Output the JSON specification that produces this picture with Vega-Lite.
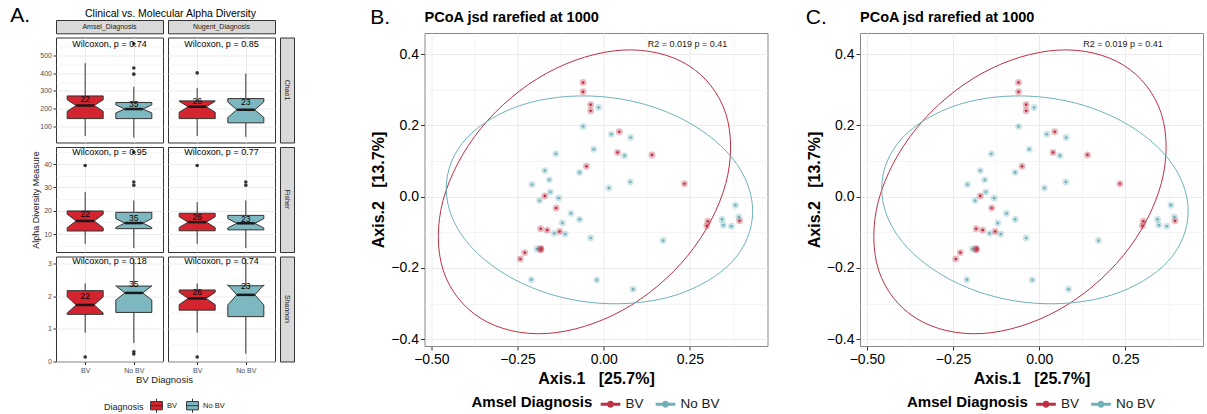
{
"$schema": "https://vega.github.io/schema/vega-lite/v6.json",
"background": "white",
"padding": {"left": 10, "top": 5, "right": 0, "bottom": 0},
"config": {
  "font": "Liberation Sans",
  "view": {"stroke": "#333333", "strokeWidth": 1},
  "axis": {"domain": false, "labelOverlap": false, "labelFontSize": 7, "labelColor": "#4d4d4d", "tickColor": "#333333", "tickSize": 3, "labelPadding": 1.5, "gridColor": "#ebebeb", "gridWidth": 1, "titleFontSize": 9, "titleFontWeight": "normal", "titleColor": "#1a1a1a", "titlePadding": 3},
  "legend": {"layout": {"bottom": {"anchor": "middle", "bounds": "flush"}}},
  "title": {"color": "black"}
},
"datasets": {
  "stat": [
    {"m":"C","d":"A","g":"BV","lo":46,"med":218,"hi":457,"n":22,"ny":256},
    {"m":"C","d":"A","g":"No BV","lo":37,"med":198,"hi":324,"n":35,"ny":226},
    {"m":"C","d":"N","g":"BV","lo":46,"med":211,"hi":318,"n":26,"ny":244},
    {"m":"C","d":"N","g":"No BV","lo":41,"med":194,"hi":398,"n":23,"ny":237},
    {"m":"F","d":"A","g":"BV","lo":5.8,"med":15.6,"hi":28,"n":22,"ny":18.6},
    {"m":"F","d":"A","g":"No BV","lo":4.0,"med":14.7,"hi":24.4,"n":35,"ny":16.9},
    {"m":"F","d":"N","g":"BV","lo":5.8,"med":15.1,"hi":23.7,"n":26,"ny":17.4},
    {"m":"F","d":"N","g":"No BV","lo":4.0,"med":14.6,"hi":24.4,"n":23,"ny":16.3},
    {"m":"S","d":"A","g":"BV","lo":0.87,"med":1.73,"hi":2.39,"n":22,"ny":1.99},
    {"m":"S","d":"A","g":"No BV","lo":0.56,"med":2.10,"hi":3.15,"n":35,"ny":2.36},
    {"m":"S","d":"N","g":"BV","lo":0.87,"med":1.93,"hi":2.39,"n":26,"ny":2.14},
    {"m":"S","d":"N","g":"No BV","lo":0.23,"med":2.04,"hi":3.15,"n":23,"ny":2.32}
  ],
  "out": [
    {"m":"C","d":"A","g":"No BV","v":395},{"m":"C","d":"A","g":"No BV","v":430},{"m":"C","d":"A","g":"No BV","v":566},
    {"m":"C","d":"N","g":"BV","v":402},
    {"m":"F","d":"A","g":"BV","v":39.4},{"m":"F","d":"A","g":"No BV","v":30.9},{"m":"F","d":"A","g":"No BV","v":32.3},{"m":"F","d":"A","g":"No BV","v":45.1},
    {"m":"F","d":"N","g":"BV","v":39.4},{"m":"F","d":"N","g":"No BV","v":30.9},{"m":"F","d":"N","g":"No BV","v":32.3},
    {"m":"S","d":"A","g":"BV","v":0.13},{"m":"S","d":"A","g":"No BV","v":0.22},{"m":"S","d":"A","g":"No BV","v":0.29},
    {"m":"S","d":"N","g":"BV","v":0.13}
  ],
  "wil": [
    {"m":"C","d":"A","t":"Wilcoxon, p = 0.74","wy":564},
    {"m":"C","d":"N","t":"Wilcoxon, p = 0.85","wy":564},
    {"m":"F","d":"A","t":"Wilcoxon, p = 0.95","wy":45.1},
    {"m":"F","d":"N","t":"Wilcoxon, p = 0.77","wy":45.1},
    {"m":"S","d":"A","t":"Wilcoxon, p = 0.18","wy":3.08},
    {"m":"S","d":"N","t":"Wilcoxon, p = 0.74","wy":3.08}
  ],
  "box": [
    {"m":"C","d":"A","g":"BV","o":1,"s":"L","v":144},{"m":"C","d":"A","g":"BV","o":2,"s":"L","v":185},{"m":"C","d":"A","g":"BV","o":3,"s":"Lm","v":218},{"m":"C","d":"A","g":"BV","o":4,"s":"L","v":250},{"m":"C","d":"A","g":"BV","o":5,"s":"L","v":272},{"m":"C","d":"A","g":"BV","o":6,"s":"R","v":272},{"m":"C","d":"A","g":"BV","o":7,"s":"R","v":250},{"m":"C","d":"A","g":"BV","o":8,"s":"Rm","v":218},{"m":"C","d":"A","g":"BV","o":9,"s":"R","v":185},{"m":"C","d":"A","g":"BV","o":10,"s":"R","v":144},{"m":"C","d":"A","g":"BV","o":11,"s":"L","v":144},
    {"m":"C","d":"A","g":"No BV","o":1,"s":"L","v":144},{"m":"C","d":"A","g":"No BV","o":2,"s":"L","v":176},{"m":"C","d":"A","g":"No BV","o":3,"s":"Lm","v":198},{"m":"C","d":"A","g":"No BV","o":4,"s":"L","v":222},{"m":"C","d":"A","g":"No BV","o":5,"s":"L","v":235},{"m":"C","d":"A","g":"No BV","o":6,"s":"R","v":235},{"m":"C","d":"A","g":"No BV","o":7,"s":"R","v":222},{"m":"C","d":"A","g":"No BV","o":8,"s":"Rm","v":198},{"m":"C","d":"A","g":"No BV","o":9,"s":"R","v":176},{"m":"C","d":"A","g":"No BV","o":10,"s":"R","v":144},{"m":"C","d":"A","g":"No BV","o":11,"s":"L","v":144},
    {"m":"C","d":"N","g":"BV","o":1,"s":"L","v":144},{"m":"C","d":"N","g":"BV","o":2,"s":"L","v":180},{"m":"C","d":"N","g":"BV","o":3,"s":"Lm","v":211},{"m":"C","d":"N","g":"BV","o":4,"s":"L","v":242},{"m":"C","d":"N","g":"BV","o":5,"s":"L","v":244},{"m":"C","d":"N","g":"BV","o":6,"s":"R","v":244},{"m":"C","d":"N","g":"BV","o":7,"s":"R","v":242},{"m":"C","d":"N","g":"BV","o":8,"s":"Rm","v":211},{"m":"C","d":"N","g":"BV","o":9,"s":"R","v":180},{"m":"C","d":"N","g":"BV","o":10,"s":"R","v":144},{"m":"C","d":"N","g":"BV","o":11,"s":"L","v":144},
    {"m":"C","d":"N","g":"No BV","o":1,"s":"L","v":120},{"m":"C","d":"N","g":"No BV","o":2,"s":"L","v":150},{"m":"C","d":"N","g":"No BV","o":3,"s":"Lm","v":194},{"m":"C","d":"N","g":"No BV","o":4,"s":"L","v":238},{"m":"C","d":"N","g":"No BV","o":5,"s":"L","v":257},{"m":"C","d":"N","g":"No BV","o":6,"s":"R","v":257},{"m":"C","d":"N","g":"No BV","o":7,"s":"R","v":238},{"m":"C","d":"N","g":"No BV","o":8,"s":"Rm","v":194},{"m":"C","d":"N","g":"No BV","o":9,"s":"R","v":150},{"m":"C","d":"N","g":"No BV","o":10,"s":"R","v":120},{"m":"C","d":"N","g":"No BV","o":11,"s":"L","v":120},
    {"m":"F","d":"A","g":"BV","o":1,"s":"L","v":11.3},{"m":"F","d":"A","g":"BV","o":2,"s":"L","v":12.7},{"m":"F","d":"A","g":"BV","o":3,"s":"Lm","v":15.6},{"m":"F","d":"A","g":"BV","o":4,"s":"L","v":18.5},{"m":"F","d":"A","g":"BV","o":5,"s":"L","v":19.9},{"m":"F","d":"A","g":"BV","o":6,"s":"R","v":19.9},{"m":"F","d":"A","g":"BV","o":7,"s":"R","v":18.5},{"m":"F","d":"A","g":"BV","o":8,"s":"Rm","v":15.6},{"m":"F","d":"A","g":"BV","o":9,"s":"R","v":12.7},{"m":"F","d":"A","g":"BV","o":10,"s":"R","v":11.3},{"m":"F","d":"A","g":"BV","o":11,"s":"L","v":11.3},
    {"m":"F","d":"A","g":"No BV","o":1,"s":"L","v":12.3},{"m":"F","d":"A","g":"No BV","o":2,"s":"L","v":12.8},{"m":"F","d":"A","g":"No BV","o":3,"s":"Lm","v":14.7},{"m":"F","d":"A","g":"No BV","o":4,"s":"L","v":16.6},{"m":"F","d":"A","g":"No BV","o":5,"s":"L","v":19.3},{"m":"F","d":"A","g":"No BV","o":6,"s":"R","v":19.3},{"m":"F","d":"A","g":"No BV","o":7,"s":"R","v":16.6},{"m":"F","d":"A","g":"No BV","o":8,"s":"Rm","v":14.7},{"m":"F","d":"A","g":"No BV","o":9,"s":"R","v":12.8},{"m":"F","d":"A","g":"No BV","o":10,"s":"R","v":12.3},{"m":"F","d":"A","g":"No BV","o":11,"s":"L","v":12.3},
    {"m":"F","d":"N","g":"BV","o":1,"s":"L","v":11.4},{"m":"F","d":"N","g":"BV","o":2,"s":"L","v":12.8},{"m":"F","d":"N","g":"BV","o":3,"s":"Lm","v":15.1},{"m":"F","d":"N","g":"BV","o":4,"s":"L","v":17.4},{"m":"F","d":"N","g":"BV","o":5,"s":"L","v":18.9},{"m":"F","d":"N","g":"BV","o":6,"s":"R","v":18.9},{"m":"F","d":"N","g":"BV","o":7,"s":"R","v":17.4},{"m":"F","d":"N","g":"BV","o":8,"s":"Rm","v":15.1},{"m":"F","d":"N","g":"BV","o":9,"s":"R","v":12.8},{"m":"F","d":"N","g":"BV","o":10,"s":"R","v":11.4},{"m":"F","d":"N","g":"BV","o":11,"s":"L","v":11.4},
    {"m":"F","d":"N","g":"No BV","o":1,"s":"L","v":11.8},{"m":"F","d":"N","g":"No BV","o":2,"s":"L","v":12.6},{"m":"F","d":"N","g":"No BV","o":3,"s":"Lm","v":14.6},{"m":"F","d":"N","g":"No BV","o":4,"s":"L","v":16.6},{"m":"F","d":"N","g":"No BV","o":5,"s":"L","v":18.0},{"m":"F","d":"N","g":"No BV","o":6,"s":"R","v":18.0},{"m":"F","d":"N","g":"No BV","o":7,"s":"R","v":16.6},{"m":"F","d":"N","g":"No BV","o":8,"s":"Rm","v":14.6},{"m":"F","d":"N","g":"No BV","o":9,"s":"R","v":12.6},{"m":"F","d":"N","g":"No BV","o":10,"s":"R","v":11.8},{"m":"F","d":"N","g":"No BV","o":11,"s":"L","v":11.8},
    {"m":"S","d":"A","g":"BV","o":1,"s":"L","v":1.44},{"m":"S","d":"A","g":"BV","o":2,"s":"L","v":1.48},{"m":"S","d":"A","g":"BV","o":3,"s":"Lm","v":1.73},{"m":"S","d":"A","g":"BV","o":4,"s":"L","v":1.98},{"m":"S","d":"A","g":"BV","o":5,"s":"L","v":2.17},{"m":"S","d":"A","g":"BV","o":6,"s":"R","v":2.17},{"m":"S","d":"A","g":"BV","o":7,"s":"R","v":1.98},{"m":"S","d":"A","g":"BV","o":8,"s":"Rm","v":1.73},{"m":"S","d":"A","g":"BV","o":9,"s":"R","v":1.48},{"m":"S","d":"A","g":"BV","o":10,"s":"R","v":1.44},{"m":"S","d":"A","g":"BV","o":11,"s":"L","v":1.44},
    {"m":"S","d":"A","g":"No BV","o":1,"s":"L","v":1.50},{"m":"S","d":"A","g":"No BV","o":2,"s":"L","v":1.88},{"m":"S","d":"A","g":"No BV","o":3,"s":"Lm","v":2.10},{"m":"S","d":"A","g":"No BV","o":4,"s":"L","v":2.32},{"m":"S","d":"A","g":"No BV","o":5,"s":"L","v":2.31},{"m":"S","d":"A","g":"No BV","o":6,"s":"R","v":2.31},{"m":"S","d":"A","g":"No BV","o":7,"s":"R","v":2.32},{"m":"S","d":"A","g":"No BV","o":8,"s":"Rm","v":2.10},{"m":"S","d":"A","g":"No BV","o":9,"s":"R","v":1.88},{"m":"S","d":"A","g":"No BV","o":10,"s":"R","v":1.50},{"m":"S","d":"A","g":"No BV","o":11,"s":"L","v":1.50},
    {"m":"S","d":"N","g":"BV","o":1,"s":"L","v":1.57},{"m":"S","d":"N","g":"BV","o":2,"s":"L","v":1.74},{"m":"S","d":"N","g":"BV","o":3,"s":"Lm","v":1.93},{"m":"S","d":"N","g":"BV","o":4,"s":"L","v":2.12},{"m":"S","d":"N","g":"BV","o":5,"s":"L","v":2.19},{"m":"S","d":"N","g":"BV","o":6,"s":"R","v":2.19},{"m":"S","d":"N","g":"BV","o":7,"s":"R","v":2.12},{"m":"S","d":"N","g":"BV","o":8,"s":"Rm","v":1.93},{"m":"S","d":"N","g":"BV","o":9,"s":"R","v":1.74},{"m":"S","d":"N","g":"BV","o":10,"s":"R","v":1.57},{"m":"S","d":"N","g":"BV","o":11,"s":"L","v":1.57},
    {"m":"S","d":"N","g":"No BV","o":1,"s":"L","v":1.37},{"m":"S","d":"N","g":"No BV","o":2,"s":"L","v":1.73},{"m":"S","d":"N","g":"No BV","o":3,"s":"Lm","v":2.04},{"m":"S","d":"N","g":"No BV","o":4,"s":"L","v":2.35},{"m":"S","d":"N","g":"No BV","o":5,"s":"L","v":2.32},{"m":"S","d":"N","g":"No BV","o":6,"s":"R","v":2.32},{"m":"S","d":"N","g":"No BV","o":7,"s":"R","v":2.35},{"m":"S","d":"N","g":"No BV","o":8,"s":"Rm","v":2.04},{"m":"S","d":"N","g":"No BV","o":9,"s":"R","v":1.73},{"m":"S","d":"N","g":"No BV","o":10,"s":"R","v":1.37},{"m":"S","d":"N","g":"No BV","o":11,"s":"L","v":1.37}
  ],
  "pcoa": [
    {"grp":"BV","x":-0.060,"y":0.320},{"grp":"BV","x":-0.060,"y":0.294},{"grp":"BV","x":-0.038,"y":0.258},{"grp":"BV","x":-0.038,"y":0.241},
    {"grp":"BV","x":0.045,"y":0.182},{"grp":"BV","x":0.040,"y":0.124},{"grp":"BV","x":0.140,"y":0.117},{"grp":"BV","x":-0.050,"y":0.085},
    {"grp":"BV","x":0.234,"y":0.036},{"grp":"BV","x":-0.171,"y":0.002},{"grp":"BV","x":-0.138,"y":-0.032},{"grp":"BV","x":0.302,"y":-0.069},
    {"grp":"BV","x":0.299,"y":-0.082},{"grp":"BV","x":0.394,"y":-0.068},{"grp":"BV","x":-0.183,"y":-0.090},{"grp":"BV","x":-0.164,"y":-0.094},
    {"grp":"BV","x":-0.128,"y":-0.098},{"grp":"BV","x":-0.185,"y":-0.147},{"grp":"BV","x":-0.182,"y":-0.146},{"grp":"BV","x":-0.229,"y":-0.157},
    {"grp":"BV","x":-0.242,"y":-0.175},{"grp":"BV","x":-0.183,"y":-0.149},
    {"grp":"No BV","x":-0.015,"y":0.250},{"grp":"No BV","x":-0.060,"y":0.197},{"grp":"No BV","x":0.022,"y":0.175},{"grp":"No BV","x":0.078,"y":0.166},
    {"grp":"No BV","x":-0.029,"y":0.133},{"grp":"No BV","x":0.060,"y":0.115},{"grp":"No BV","x":-0.139,"y":0.120},{"grp":"No BV","x":-0.171,"y":0.073},
    {"grp":"No BV","x":-0.070,"y":0.068},{"grp":"No BV","x":-0.158,"y":0.047},{"grp":"No BV","x":-0.208,"y":0.034},{"grp":"No BV","x":0.077,"y":0.041},
    {"grp":"No BV","x":0.015,"y":0.024},{"grp":"No BV","x":-0.155,"y":0.013},{"grp":"No BV","x":-0.186,"y":-0.011},{"grp":"No BV","x":-0.131,"y":-0.004},
    {"grp":"No BV","x":-0.095,"y":-0.047},{"grp":"No BV","x":-0.070,"y":-0.064},{"grp":"No BV","x":-0.120,"y":-0.074},{"grp":"No BV","x":-0.144,"y":-0.103},
    {"grp":"No BV","x":-0.112,"y":-0.105},{"grp":"No BV","x":-0.038,"y":-0.116},{"grp":"No BV","x":0.172,"y":-0.123},{"grp":"No BV","x":-0.194,"y":-0.147},
    {"grp":"No BV","x":0.382,"y":-0.024},{"grp":"No BV","x":0.392,"y":-0.057},{"grp":"No BV","x":0.343,"y":-0.064},{"grp":"No BV","x":0.347,"y":-0.080},
    {"grp":"No BV","x":0.370,"y":-0.083},{"grp":"No BV","x":-0.210,"y":-0.233},{"grp":"No BV","x":-0.020,"y":-0.234},{"grp":"No BV","x":0.085,"y":-0.260}
  ],
  "ell": [
    {"grp":"BV","i":0,"x":0.368,"y":0.139},{"grp":"BV","i":1,"x":0.354,"y":0.233},{"grp":"BV","i":2,"x":0.311,"y":0.311},{"grp":"BV","i":3,"x":0.244,"y":0.369},
    {"grp":"BV","i":4,"x":0.156,"y":0.403},{"grp":"BV","i":5,"x":0.054,"y":0.411},{"grp":"BV","i":6,"x":-0.056,"y":0.391},{"grp":"BV","i":7,"x":-0.166,"y":0.346},
    {"grp":"BV","i":8,"x":-0.268,"y":0.278},{"grp":"BV","i":9,"x":-0.356,"y":0.192},{"grp":"BV","i":10,"x":-0.423,"y":0.094},{"grp":"BV","i":11,"x":-0.466,"y":-0.010},
    {"grp":"BV","i":12,"x":-0.480,"y":-0.112},{"grp":"BV","i":13,"x":-0.466,"y":-0.206},{"grp":"BV","i":14,"x":-0.423,"y":-0.284},{"grp":"BV","i":15,"x":-0.356,"y":-0.342},
    {"grp":"BV","i":16,"x":-0.268,"y":-0.376},{"grp":"BV","i":17,"x":-0.166,"y":-0.384},{"grp":"BV","i":18,"x":-0.056,"y":-0.364},{"grp":"BV","i":19,"x":0.054,"y":-0.319},
    {"grp":"BV","i":20,"x":0.156,"y":-0.251},{"grp":"BV","i":21,"x":0.244,"y":-0.165},{"grp":"BV","i":22,"x":0.311,"y":-0.067},{"grp":"BV","i":23,"x":0.354,"y":0.037},
    {"grp":"No BV","i":0,"x":0.432,"y":-0.041},{"grp":"No BV","i":1,"x":0.417,"y":-0.115},{"grp":"No BV","i":2,"x":0.373,"y":-0.182},{"grp":"No BV","i":3,"x":0.302,"y":-0.236},
    {"grp":"No BV","i":4,"x":0.210,"y":-0.276},{"grp":"No BV","i":5,"x":0.103,"y":-0.297},{"grp":"No BV","i":6,"x":-0.013,"y":-0.299},{"grp":"No BV","i":7,"x":-0.128,"y":-0.281},
    {"grp":"No BV","i":8,"x":-0.235,"y":-0.244},{"grp":"No BV","i":9,"x":-0.327,"y":-0.191},{"grp":"No BV","i":10,"x":-0.398,"y":-0.126},{"grp":"No BV","i":11,"x":-0.442,"y":-0.053},
    {"grp":"No BV","i":12,"x":-0.457,"y":0.023},{"grp":"No BV","i":13,"x":-0.442,"y":0.097},{"grp":"No BV","i":14,"x":-0.398,"y":0.164},{"grp":"No BV","i":15,"x":-0.327,"y":0.218},
    {"grp":"No BV","i":16,"x":-0.235,"y":0.258},{"grp":"No BV","i":17,"x":-0.128,"y":0.279},{"grp":"No BV","i":18,"x":-0.013,"y":0.281},{"grp":"No BV","i":19,"x":0.103,"y":0.263},
    {"grp":"No BV","i":20,"x":0.210,"y":0.226},{"grp":"No BV","i":21,"x":0.302,"y":0.173},{"grp":"No BV","i":22,"x":0.373,"y":0.108},{"grp":"No BV","i":23,"x":0.417,"y":0.035}
  ]
},
"columns": 2,
"align": "none",
"spacing": 74.5,
"resolve": {"scale": {"color": "independent", "fill": "independent", "xOffset": "independent"}, "legend": {"color": "independent", "fill": "independent"}},
"concat": [
 {
  "title": {"text": "A.", "anchor": "start", "frame": "bounds", "fontSize": 21, "fontWeight": "normal", "offset": -18, "dx": -21},
  "spacing": 0,
  "resolve": {"scale": {"fill": "independent"}, "legend": {"fill": "independent"}},
  "vconcat": [
   {"width": 1, "height": 1, "view": {"stroke": null}, "data": {"values": [{"t": ""}]}, "mark": {"type": "text", "fontSize": 0.1}, "encoding": {"text": {"field": "t", "type": "nominal"}}},
   {
    "title": {"text": "Clinical vs. Molecular Alpha Diversity", "anchor": "start", "frame": "group", "fontSize": 10.5, "fontWeight": "normal", "offset": 0, "dx": 29},
    "columns": 3,
    "align": "each",
    "spacing": {"row": 2.5, "column": 3},
    "concat": [
     {"width": 107, "height": 13.3, "view": {"fill": "#d9d9d9", "stroke": "#333333"}, "data": {"values": [{"t": "Amsel_Diagnosis"}]}, "mark": {"type": "text", "fontSize": 7, "color": "#1a1a1a"}, "encoding": {"text": {"field": "t", "type": "nominal"}}},
     {"width": 107, "height": 13.3, "view": {"fill": "#d9d9d9", "stroke": "#333333"}, "data": {"values": [{"t": "Nugent_Diagnosis"}]}, "mark": {"type": "text", "fontSize": 7, "color": "#1a1a1a"}, "encoding": {"text": {"field": "t", "type": "nominal"}}},
     {"width": 14, "height": 13.3, "view": {"stroke": null}, "data": {"values": [{"t": ""}]}, "mark": {"type": "text", "fontSize": 0.1}, "encoding": {"text": {"field": "t", "type": "nominal"}}},

     {"width": 107, "height": 105, "layer": [
       {"data": {"name": "stat"}, "transform": [{"filter": "datum.m=='C'&&datum.d=='A'"}], "mark": {"type": "rule", "color": "#333333", "strokeWidth": 1},
        "encoding": {"x": {"field": "g", "type": "nominal", "scale": {"type": "point", "padding": 0.6, "domain": ["BV", "No BV"]}, "axis": {"grid": true, "labels": false, "ticks": false, "title": null, "minExtent": 0, "maxExtent": 0}},
                     "y": {"field": "lo", "type": "quantitative", "scale": {"domain": [9, 602], "nice": false, "zero": false}, "axis": {"values": [50, 100, 150, 200, 250, 300, 350, 400, 450, 500, 550], "tickCount": 50, "format": "d", "grid": true, "title": null, "labelOverlap": false, "labelExpr": "datum.value % 100 === 0 ? datum.label : ''", "tickOpacity": {"condition": {"test": "datum.value % 100 === 0", "value": 1}, "value": 0}, "gridWidth": {"condition": {"test": "datum.value % 100 === 0", "value": 1}, "value": 0.5}}},
                     "y2": {"field": "hi"}}},
       {"data": {"name": "box"}, "transform": [{"filter": "datum.m=='C'&&datum.d=='A'"}], "mark": {"type": "line", "stroke": "#333333", "strokeWidth": 1},
        "encoding": {"x": {"field": "g", "type": "nominal"}, "xOffset": {"field": "s", "type": "nominal", "scale": {"type": "point", "padding": 0, "domain": ["L", "Lm", "C", "Rm", "R"], "range": [-18, 18]}}, "y": {"field": "v", "type": "quantitative"}, "order": {"field": "o", "type": "quantitative"}, "detail": {"field": "g"},
                     "fill": {"field": "g", "type": "nominal", "scale": {"domain": ["BV", "No BV"], "range": ["#d3242f", "#7db8c1"]}, "legend": null}}},
       {"data": {"name": "stat"}, "transform": [{"filter": "datum.m=='C'&&datum.d=='A'"}], "mark": {"type": "tick", "size": 18, "thickness": 2.5, "color": "#1a1a1a", "orient": "horizontal", "opacity": 1},
        "encoding": {"x": {"field": "g", "type": "nominal"}, "y": {"field": "med", "type": "quantitative"}}},
       {"data": {"name": "out"}, "transform": [{"filter": "datum.m=='C'&&datum.d=='A'"}], "mark": {"type": "point", "filled": true, "size": 13, "color": "#333333", "opacity": 1},
        "encoding": {"x": {"field": "g", "type": "nominal"}, "y": {"field": "v", "type": "quantitative"}}},
       {"data": {"name": "stat"}, "transform": [{"filter": "datum.m=='C'&&datum.d=='A'"}], "mark": {"type": "text", "fontSize": 8.5, "color": "black"},
        "encoding": {"x": {"field": "g", "type": "nominal"}, "y": {"field": "ny", "type": "quantitative"}, "text": {"field": "n", "type": "nominal"}}},
       {"data": {"name": "wil"}, "transform": [{"filter": "datum.m=='C'&&datum.d=='A'"}], "mark": {"type": "text", "fontSize": 9, "color": "black"},
        "encoding": {"y": {"field": "wy", "type": "quantitative"}, "text": {"field": "t", "type": "nominal"}}}
     ]},
     {"width": 107, "height": 105, "layer": [
       {"data": {"name": "stat"}, "transform": [{"filter": "datum.m=='C'&&datum.d=='N'"}], "mark": {"type": "rule", "color": "#333333", "strokeWidth": 1},
        "encoding": {"x": {"field": "g", "type": "nominal", "scale": {"type": "point", "padding": 0.6, "domain": ["BV", "No BV"]}, "axis": {"grid": true, "labels": false, "ticks": false, "title": null, "minExtent": 0, "maxExtent": 0}},
                     "y": {"field": "lo", "type": "quantitative", "scale": {"domain": [9, 602], "nice": false, "zero": false}, "axis": {"values": [50, 100, 150, 200, 250, 300, 350, 400, 450, 500, 550], "tickCount": 50, "grid": true, "labels": false, "ticks": false, "title": null, "minExtent": 0, "maxExtent": 0, "gridWidth": {"condition": {"test": "datum.value % 100 === 0", "value": 1}, "value": 0.5}}},
                     "y2": {"field": "hi"}}},
       {"data": {"name": "box"}, "transform": [{"filter": "datum.m=='C'&&datum.d=='N'"}], "mark": {"type": "line", "stroke": "#333333", "strokeWidth": 1},
        "encoding": {"x": {"field": "g", "type": "nominal"}, "xOffset": {"field": "s", "type": "nominal", "scale": {"type": "point", "padding": 0, "domain": ["L", "Lm", "C", "Rm", "R"], "range": [-18, 18]}}, "y": {"field": "v", "type": "quantitative"}, "order": {"field": "o", "type": "quantitative"}, "detail": {"field": "g"},
                     "fill": {"field": "g", "type": "nominal", "scale": {"domain": ["BV", "No BV"], "range": ["#d3242f", "#7db8c1"]}, "legend": null}}},
       {"data": {"name": "stat"}, "transform": [{"filter": "datum.m=='C'&&datum.d=='N'"}], "mark": {"type": "tick", "size": 18, "thickness": 2.5, "color": "#1a1a1a", "orient": "horizontal", "opacity": 1},
        "encoding": {"x": {"field": "g", "type": "nominal"}, "y": {"field": "med", "type": "quantitative"}}},
       {"data": {"name": "out"}, "transform": [{"filter": "datum.m=='C'&&datum.d=='N'"}], "mark": {"type": "point", "filled": true, "size": 13, "color": "#333333", "opacity": 1},
        "encoding": {"x": {"field": "g", "type": "nominal"}, "y": {"field": "v", "type": "quantitative"}}},
       {"data": {"name": "stat"}, "transform": [{"filter": "datum.m=='C'&&datum.d=='N'"}], "mark": {"type": "text", "fontSize": 8.5, "color": "black"},
        "encoding": {"x": {"field": "g", "type": "nominal"}, "y": {"field": "ny", "type": "quantitative"}, "text": {"field": "n", "type": "nominal"}}},
       {"data": {"name": "wil"}, "transform": [{"filter": "datum.m=='C'&&datum.d=='N'"}], "mark": {"type": "text", "fontSize": 9, "color": "black"},
        "encoding": {"y": {"field": "wy", "type": "quantitative"}, "text": {"field": "t", "type": "nominal"}}}
     ]},
     {"width": 14, "height": 105, "view": {"fill": "#d9d9d9", "stroke": "#333333"}, "data": {"values": [{"t": "Chao1"}]}, "mark": {"type": "text", "fontSize": 7, "color": "#1a1a1a", "angle": 90}, "encoding": {"text": {"field": "t", "type": "nominal"}}},

     {"width": 107, "height": 105, "layer": [
       {"data": {"name": "stat"}, "transform": [{"filter": "datum.m=='F'&&datum.d=='A'"}], "mark": {"type": "rule", "color": "#333333", "strokeWidth": 1},
        "encoding": {"x": {"field": "g", "type": "nominal", "scale": {"type": "point", "padding": 0.6, "domain": ["BV", "No BV"]}, "axis": {"grid": true, "labels": false, "ticks": false, "title": null, "minExtent": 0, "maxExtent": 0}},
                     "y": {"field": "lo", "type": "quantitative", "scale": {"domain": [2.3, 47.3], "nice": false, "zero": false}, "axis": {"values": [5, 10, 15, 20, 25, 30, 35, 40, 45], "tickCount": 50, "format": "d", "grid": true, "title": "Alpha Diversity Measure", "labelOverlap": false, "labelExpr": "datum.value % 10 === 0 ? datum.label : ''", "tickOpacity": {"condition": {"test": "datum.value % 10 === 0", "value": 1}, "value": 0}, "gridWidth": {"condition": {"test": "datum.value % 10 === 0", "value": 1}, "value": 0.5}}},
                     "y2": {"field": "hi"}}},
       {"data": {"name": "box"}, "transform": [{"filter": "datum.m=='F'&&datum.d=='A'"}], "mark": {"type": "line", "stroke": "#333333", "strokeWidth": 1},
        "encoding": {"x": {"field": "g", "type": "nominal"}, "xOffset": {"field": "s", "type": "nominal", "scale": {"type": "point", "padding": 0, "domain": ["L", "Lm", "C", "Rm", "R"], "range": [-18, 18]}}, "y": {"field": "v", "type": "quantitative"}, "order": {"field": "o", "type": "quantitative"}, "detail": {"field": "g"},
                     "fill": {"field": "g", "type": "nominal", "scale": {"domain": ["BV", "No BV"], "range": ["#d3242f", "#7db8c1"]}, "legend": null}}},
       {"data": {"name": "stat"}, "transform": [{"filter": "datum.m=='F'&&datum.d=='A'"}], "mark": {"type": "tick", "size": 18, "thickness": 2.5, "color": "#1a1a1a", "orient": "horizontal", "opacity": 1},
        "encoding": {"x": {"field": "g", "type": "nominal"}, "y": {"field": "med", "type": "quantitative"}}},
       {"data": {"name": "out"}, "transform": [{"filter": "datum.m=='F'&&datum.d=='A'"}], "mark": {"type": "point", "filled": true, "size": 13, "color": "#333333", "opacity": 1},
        "encoding": {"x": {"field": "g", "type": "nominal"}, "y": {"field": "v", "type": "quantitative"}}},
       {"data": {"name": "stat"}, "transform": [{"filter": "datum.m=='F'&&datum.d=='A'"}], "mark": {"type": "text", "fontSize": 8.5, "color": "black"},
        "encoding": {"x": {"field": "g", "type": "nominal"}, "y": {"field": "ny", "type": "quantitative"}, "text": {"field": "n", "type": "nominal"}}},
       {"data": {"name": "wil"}, "transform": [{"filter": "datum.m=='F'&&datum.d=='A'"}], "mark": {"type": "text", "fontSize": 9, "color": "black"},
        "encoding": {"y": {"field": "wy", "type": "quantitative"}, "text": {"field": "t", "type": "nominal"}}}
     ]},
     {"width": 107, "height": 105, "layer": [
       {"data": {"name": "stat"}, "transform": [{"filter": "datum.m=='F'&&datum.d=='N'"}], "mark": {"type": "rule", "color": "#333333", "strokeWidth": 1},
        "encoding": {"x": {"field": "g", "type": "nominal", "scale": {"type": "point", "padding": 0.6, "domain": ["BV", "No BV"]}, "axis": {"grid": true, "labels": false, "ticks": false, "title": null, "minExtent": 0, "maxExtent": 0}},
                     "y": {"field": "lo", "type": "quantitative", "scale": {"domain": [2.3, 47.3], "nice": false, "zero": false}, "axis": {"values": [5, 10, 15, 20, 25, 30, 35, 40, 45], "tickCount": 50, "grid": true, "labels": false, "ticks": false, "title": null, "minExtent": 0, "maxExtent": 0, "gridWidth": {"condition": {"test": "datum.value % 10 === 0", "value": 1}, "value": 0.5}}},
                     "y2": {"field": "hi"}}},
       {"data": {"name": "box"}, "transform": [{"filter": "datum.m=='F'&&datum.d=='N'"}], "mark": {"type": "line", "stroke": "#333333", "strokeWidth": 1},
        "encoding": {"x": {"field": "g", "type": "nominal"}, "xOffset": {"field": "s", "type": "nominal", "scale": {"type": "point", "padding": 0, "domain": ["L", "Lm", "C", "Rm", "R"], "range": [-18, 18]}}, "y": {"field": "v", "type": "quantitative"}, "order": {"field": "o", "type": "quantitative"}, "detail": {"field": "g"},
                     "fill": {"field": "g", "type": "nominal", "scale": {"domain": ["BV", "No BV"], "range": ["#d3242f", "#7db8c1"]}, "legend": null}}},
       {"data": {"name": "stat"}, "transform": [{"filter": "datum.m=='F'&&datum.d=='N'"}], "mark": {"type": "tick", "size": 18, "thickness": 2.5, "color": "#1a1a1a", "orient": "horizontal", "opacity": 1},
        "encoding": {"x": {"field": "g", "type": "nominal"}, "y": {"field": "med", "type": "quantitative"}}},
       {"data": {"name": "out"}, "transform": [{"filter": "datum.m=='F'&&datum.d=='N'"}], "mark": {"type": "point", "filled": true, "size": 13, "color": "#333333", "opacity": 1},
        "encoding": {"x": {"field": "g", "type": "nominal"}, "y": {"field": "v", "type": "quantitative"}}},
       {"data": {"name": "stat"}, "transform": [{"filter": "datum.m=='F'&&datum.d=='N'"}], "mark": {"type": "text", "fontSize": 8.5, "color": "black"},
        "encoding": {"x": {"field": "g", "type": "nominal"}, "y": {"field": "ny", "type": "quantitative"}, "text": {"field": "n", "type": "nominal"}}},
       {"data": {"name": "wil"}, "transform": [{"filter": "datum.m=='F'&&datum.d=='N'"}], "mark": {"type": "text", "fontSize": 9, "color": "black"},
        "encoding": {"y": {"field": "wy", "type": "quantitative"}, "text": {"field": "t", "type": "nominal"}}}
     ]},
     {"width": 14, "height": 105, "view": {"fill": "#d9d9d9", "stroke": "#333333"}, "data": {"values": [{"t": "Fisher"}]}, "mark": {"type": "text", "fontSize": 7, "color": "#1a1a1a", "angle": 90}, "encoding": {"text": {"field": "t", "type": "nominal"}}},

     {"width": 107, "height": 105, "layer": [
       {"data": {"name": "stat"}, "transform": [{"filter": "datum.m=='S'&&datum.d=='A'"}], "mark": {"type": "rule", "color": "#333333", "strokeWidth": 1},
        "encoding": {"x": {"field": "g", "type": "nominal", "scale": {"type": "point", "padding": 0.6, "domain": ["BV", "No BV"]}, "axis": {"grid": true, "labelAngle": 0, "title": null}},
                     "y": {"field": "lo", "type": "quantitative", "scale": {"domain": [-0.01, 3.22], "nice": false, "zero": false}, "axis": {"values": [0, 0.5, 1, 1.5, 2, 2.5, 3], "tickCount": 50, "format": "d", "grid": true, "title": null, "labelOverlap": false, "labelExpr": "datum.value % 1 === 0 ? datum.label : ''", "tickOpacity": {"condition": {"test": "datum.value % 1 === 0", "value": 1}, "value": 0}, "gridWidth": {"condition": {"test": "datum.value % 1 === 0", "value": 1}, "value": 0.5}}},
                     "y2": {"field": "hi"}}},
       {"data": {"name": "box"}, "transform": [{"filter": "datum.m=='S'&&datum.d=='A'"}], "mark": {"type": "line", "stroke": "#333333", "strokeWidth": 1},
        "encoding": {"x": {"field": "g", "type": "nominal"}, "xOffset": {"field": "s", "type": "nominal", "scale": {"type": "point", "padding": 0, "domain": ["L", "Lm", "C", "Rm", "R"], "range": [-18, 18]}}, "y": {"field": "v", "type": "quantitative"}, "order": {"field": "o", "type": "quantitative"}, "detail": {"field": "g"},
                     "fill": {"field": "g", "type": "nominal", "scale": {"domain": ["BV", "No BV"], "range": ["#d3242f", "#7db8c1"]}, "legend": null}}},
       {"data": {"name": "stat"}, "transform": [{"filter": "datum.m=='S'&&datum.d=='A'"}], "mark": {"type": "tick", "size": 18, "thickness": 2.5, "color": "#1a1a1a", "orient": "horizontal", "opacity": 1},
        "encoding": {"x": {"field": "g", "type": "nominal"}, "y": {"field": "med", "type": "quantitative"}}},
       {"data": {"name": "out"}, "transform": [{"filter": "datum.m=='S'&&datum.d=='A'"}], "mark": {"type": "point", "filled": true, "size": 13, "color": "#333333", "opacity": 1},
        "encoding": {"x": {"field": "g", "type": "nominal"}, "y": {"field": "v", "type": "quantitative"}}},
       {"data": {"name": "stat"}, "transform": [{"filter": "datum.m=='S'&&datum.d=='A'"}], "mark": {"type": "text", "fontSize": 8.5, "color": "black"},
        "encoding": {"x": {"field": "g", "type": "nominal"}, "y": {"field": "ny", "type": "quantitative"}, "text": {"field": "n", "type": "nominal"}}},
       {"data": {"name": "wil"}, "transform": [{"filter": "datum.m=='S'&&datum.d=='A'"}], "mark": {"type": "text", "fontSize": 9, "color": "black"},
        "encoding": {"y": {"field": "wy", "type": "quantitative"}, "text": {"field": "t", "type": "nominal"}}}
     ]},
     {"width": 107, "height": 105, "layer": [
       {"data": {"name": "stat"}, "transform": [{"filter": "datum.m=='S'&&datum.d=='N'"}], "mark": {"type": "rule", "color": "#333333", "strokeWidth": 1},
        "encoding": {"x": {"field": "g", "type": "nominal", "scale": {"type": "point", "padding": 0.6, "domain": ["BV", "No BV"]}, "axis": {"grid": true, "labelAngle": 0, "title": null}},
                     "y": {"field": "lo", "type": "quantitative", "scale": {"domain": [-0.01, 3.22], "nice": false, "zero": false}, "axis": {"values": [0, 0.5, 1, 1.5, 2, 2.5, 3], "tickCount": 50, "grid": true, "labels": false, "ticks": false, "title": null, "minExtent": 0, "maxExtent": 0, "gridWidth": {"condition": {"test": "datum.value % 1 === 0", "value": 1}, "value": 0.5}}},
                     "y2": {"field": "hi"}}},
       {"data": {"name": "box"}, "transform": [{"filter": "datum.m=='S'&&datum.d=='N'"}], "mark": {"type": "line", "stroke": "#333333", "strokeWidth": 1},
        "encoding": {"x": {"field": "g", "type": "nominal"}, "xOffset": {"field": "s", "type": "nominal", "scale": {"type": "point", "padding": 0, "domain": ["L", "Lm", "C", "Rm", "R"], "range": [-18, 18]}}, "y": {"field": "v", "type": "quantitative"}, "order": {"field": "o", "type": "quantitative"}, "detail": {"field": "g"},
                     "fill": {"field": "g", "type": "nominal", "scale": {"domain": ["BV", "No BV"], "range": ["#d3242f", "#7db8c1"]}, "legend": null}}},
       {"data": {"name": "stat"}, "transform": [{"filter": "datum.m=='S'&&datum.d=='N'"}], "mark": {"type": "tick", "size": 18, "thickness": 2.5, "color": "#1a1a1a", "orient": "horizontal", "opacity": 1},
        "encoding": {"x": {"field": "g", "type": "nominal"}, "y": {"field": "med", "type": "quantitative"}}},
       {"data": {"name": "out"}, "transform": [{"filter": "datum.m=='S'&&datum.d=='N'"}], "mark": {"type": "point", "filled": true, "size": 13, "color": "#333333", "opacity": 1},
        "encoding": {"x": {"field": "g", "type": "nominal"}, "y": {"field": "v", "type": "quantitative"}}},
       {"data": {"name": "stat"}, "transform": [{"filter": "datum.m=='S'&&datum.d=='N'"}], "mark": {"type": "text", "fontSize": 8.5, "color": "black"},
        "encoding": {"x": {"field": "g", "type": "nominal"}, "y": {"field": "ny", "type": "quantitative"}, "text": {"field": "n", "type": "nominal"}}},
       {"data": {"name": "wil"}, "transform": [{"filter": "datum.m=='S'&&datum.d=='N'"}], "mark": {"type": "text", "fontSize": 9, "color": "black"},
        "encoding": {"y": {"field": "wy", "type": "quantitative"}, "text": {"field": "t", "type": "nominal"}}}
     ]},
     {"width": 14, "height": 105, "view": {"fill": "#d9d9d9", "stroke": "#333333"}, "data": {"values": [{"t": "Shannon"}]}, "mark": {"type": "text", "fontSize": 7, "color": "#1a1a1a", "angle": 90}, "encoding": {"text": {"field": "t", "type": "nominal"}}}
    ]
   },
   {
    "width": 217, "height": 1, "view": {"stroke": null},
    "title": {"text": "BV Diagnosis", "orient": "top", "anchor": "middle", "frame": "group", "fontSize": 9.5, "fontWeight": "normal", "color": "#1a1a1a", "offset": 2},
    "data": {"values": [{"g": "BV"}, {"g": "No BV"}]},
    "mark": {"type": "text", "text": "", "fontSize": 0.1},
    "encoding": {"fill": {"field": "g", "type": "nominal", "title": "Diagnosis", "scale": {"domain": ["BV", "No BV"], "range": ["#d3242f", "#7db8c1"]}, "legend": {"orient": "bottom", "direction": "horizontal", "titleOrient": "left", "titleFontSize": 9, "titleFontWeight": "normal", "titleColor": "#1a1a1a", "labelFontSize": 7.5, "labelColor": "#1a1a1a", "symbolType": "M-1,-0.7H1V0.7H-1Z M-1,0H1 M0,-0.7V-1.2 M0,0.7V1.2", "symbolSize": 140, "symbolStrokeColor": "#333333", "symbolStrokeWidth": 1, "symbolOpacity": 1, "offset": 12, "columnPadding": 6, "titlePadding": 6}}}
   }
  ]
 },
 {
  "spacing": 36.5,
  "resolve": {"scale": {"color": "independent"}, "legend": {"color": "independent"}},
  "hconcat": [
   {
    "title": {"text": "B.", "anchor": "start", "frame": "bounds", "fontSize": 21, "fontWeight": "normal", "offset": -20},
    "spacing": 0,
    "resolve": {"scale": {"color": "independent"}, "legend": {"color": "independent"}},
    "vconcat": [
     {"width": 1, "height": 0.5, "view": {"stroke": null}, "data": {"values": [{"t": ""}]}, "mark": {"type": "text", "fontSize": 0.1}, "encoding": {"text": {"field": "t", "type": "nominal"}}},
     {
      "width": 343, "height": 313,
      "title": {"text": "PCoA jsd rarefied at 1000", "anchor": "start", "frame": "group", "fontSize": 14.5, "fontWeight": "bold", "offset": 7.6},
      "view": {"stroke": "#888888"},
      "layer": [
       {"data": {"name": "pcoa"}, "mark": {"type": "point", "filled": true, "size": 7, "opacity": 1},
        "encoding": {
         "x": {"field": "x", "type": "quantitative", "scale": {"domain": [-0.52, 0.475], "nice": false, "zero": false}, "axis": {"values": [-0.5, -0.375, -0.25, -0.125, 0, 0.125, 0.25, 0.375], "tickCount": 50, "format": ".2f", "labelOverlap": false, "labelExpr": "round(datum.value*8) % 2 === 0 ? datum.label : ''", "tickOpacity": {"condition": {"test": "round(datum.value*8) % 2 === 0", "value": 1}, "value": 0}, "gridWidth": {"condition": {"test": "round(datum.value*8) % 2 === 0", "value": 1}, "value": 0.5}, "grid": true, "gridColor": "#ebebeb", "labelFontSize": 14, "labelColor": "black", "tickColor": "#333333", "tickSize": 4, "labelPadding": 2, "title": "Axis.1\u00a0\u00a0 [25.7%]", "titleFontSize": 16, "titleFontWeight": "bold", "titleColor": "black", "titlePadding": 4}},
         "y": {"field": "y", "type": "quantitative", "scale": {"domain": [-0.419, 0.459], "nice": false, "zero": false}, "axis": {"values": [-0.4, -0.3, -0.2, -0.1, 0, 0.1, 0.2, 0.3, 0.4], "tickCount": 50, "format": ".1f", "labelOverlap": false, "labelExpr": "round(datum.value*10) % 2 === 0 ? datum.label : ''", "tickOpacity": {"condition": {"test": "round(datum.value*10) % 2 === 0", "value": 1}, "value": 0}, "gridWidth": {"condition": {"test": "round(datum.value*10) % 2 === 0", "value": 1}, "value": 0.5}, "grid": true, "gridColor": "#ebebeb", "labelFontSize": 14, "labelColor": "black", "tickColor": "#333333", "tickSize": 4, "labelPadding": 2, "title": "Axis.2\u00a0\u00a0 [13.7%]", "titleFontSize": 16, "titleFontWeight": "bold", "titleColor": "black", "titlePadding": 4}},
         "color": {"field": "grp", "type": "nominal", "scale": {"domain": ["BV", "No BV"], "range": ["#bd3043", "#6fb1bb"]}, "legend": {"title": "Amsel Diagnosis", "orient": "bottom", "direction": "horizontal", "titleOrient": "left", "titleFontSize": 15, "titleFontWeight": "bold", "titleColor": "black", "labelFontSize": 13.5, "labelColor": "#1a1a1a", "symbolType": "M-1,-0.08H1V0.08H-1Z M-0.3,0A0.3,0.3 0 1,1 0.3,0A0.3,0.3 0 1,1 -0.3,0Z", "symbolSize": 330, "offset": 8, "columnPadding": 8, "labelOffset": 5, "titlePadding": 8}}}},
       {"data": {"name": "pcoa"}, "mark": {"type": "point", "filled": true, "size": 48, "opacity": 0.33},
        "encoding": {"x": {"field": "x", "type": "quantitative"}, "y": {"field": "y", "type": "quantitative"}, "color": {"field": "grp", "type": "nominal", "legend": null}}},
       {"data": {"name": "ell"}, "mark": {"type": "line", "strokeWidth": 1, "interpolate": "cardinal-closed"},
        "encoding": {"x": {"field": "x", "type": "quantitative"}, "y": {"field": "y", "type": "quantitative"}, "color": {"field": "grp", "type": "nominal", "legend": null}, "order": {"field": "i", "type": "quantitative"}}},
       {"data": {"values": [{"t": "R2 = 0.019 p = 0.41"}]}, "mark": {"type": "text", "fontSize": 9, "color": "#1a1a1a"},
        "encoding": {"x": {"datum": 0.243, "type": "quantitative"}, "y": {"datum": 0.428, "type": "quantitative"}, "text": {"field": "t", "type": "nominal"}}}
      ]
     }
    ]
   },
   {
    "title": {"text": "C.", "anchor": "start", "frame": "bounds", "fontSize": 21, "fontWeight": "normal", "offset": -20},
    "spacing": 0,
    "resolve": {"scale": {"color": "independent"}, "legend": {"color": "independent"}},
    "vconcat": [
     {"width": 1, "height": 0.5, "view": {"stroke": null}, "data": {"values": [{"t": ""}]}, "mark": {"type": "text", "fontSize": 0.1}, "encoding": {"text": {"field": "t", "type": "nominal"}}},
     {
      "width": 343, "height": 313,
      "title": {"text": "PCoA jsd rarefied at 1000", "anchor": "start", "frame": "group", "fontSize": 14.5, "fontWeight": "bold", "offset": 7.6},
      "view": {"stroke": "#888888"},
      "layer": [
       {"data": {"name": "pcoa"}, "mark": {"type": "point", "filled": true, "size": 7, "opacity": 1},
        "encoding": {
         "x": {"field": "x", "type": "quantitative", "scale": {"domain": [-0.52, 0.475], "nice": false, "zero": false}, "axis": {"values": [-0.5, -0.375, -0.25, -0.125, 0, 0.125, 0.25, 0.375], "tickCount": 50, "format": ".2f", "labelOverlap": false, "labelExpr": "round(datum.value*8) % 2 === 0 ? datum.label : ''", "tickOpacity": {"condition": {"test": "round(datum.value*8) % 2 === 0", "value": 1}, "value": 0}, "gridWidth": {"condition": {"test": "round(datum.value*8) % 2 === 0", "value": 1}, "value": 0.5}, "grid": true, "gridColor": "#ebebeb", "labelFontSize": 14, "labelColor": "black", "tickColor": "#333333", "tickSize": 4, "labelPadding": 2, "title": "Axis.1\u00a0\u00a0 [25.7%]", "titleFontSize": 16, "titleFontWeight": "bold", "titleColor": "black", "titlePadding": 4}},
         "y": {"field": "y", "type": "quantitative", "scale": {"domain": [-0.419, 0.459], "nice": false, "zero": false}, "axis": {"values": [-0.4, -0.3, -0.2, -0.1, 0, 0.1, 0.2, 0.3, 0.4], "tickCount": 50, "format": ".1f", "labelOverlap": false, "labelExpr": "round(datum.value*10) % 2 === 0 ? datum.label : ''", "tickOpacity": {"condition": {"test": "round(datum.value*10) % 2 === 0", "value": 1}, "value": 0}, "gridWidth": {"condition": {"test": "round(datum.value*10) % 2 === 0", "value": 1}, "value": 0.5}, "grid": true, "gridColor": "#ebebeb", "labelFontSize": 14, "labelColor": "black", "tickColor": "#333333", "tickSize": 4, "labelPadding": 2, "title": "Axis.2\u00a0\u00a0 [13.7%]", "titleFontSize": 16, "titleFontWeight": "bold", "titleColor": "black", "titlePadding": 4}},
         "color": {"field": "grp", "type": "nominal", "scale": {"domain": ["BV", "No BV"], "range": ["#bd3043", "#6fb1bb"]}, "legend": {"title": "Amsel Diagnosis", "orient": "bottom", "direction": "horizontal", "titleOrient": "left", "titleFontSize": 15, "titleFontWeight": "bold", "titleColor": "black", "labelFontSize": 13.5, "labelColor": "#1a1a1a", "symbolType": "M-1,-0.08H1V0.08H-1Z M-0.3,0A0.3,0.3 0 1,1 0.3,0A0.3,0.3 0 1,1 -0.3,0Z", "symbolSize": 330, "offset": 8, "columnPadding": 8, "labelOffset": 5, "titlePadding": 8}}}},
       {"data": {"name": "pcoa"}, "mark": {"type": "point", "filled": true, "size": 48, "opacity": 0.33},
        "encoding": {"x": {"field": "x", "type": "quantitative"}, "y": {"field": "y", "type": "quantitative"}, "color": {"field": "grp", "type": "nominal", "legend": null}}},
       {"data": {"name": "ell"}, "mark": {"type": "line", "strokeWidth": 1, "interpolate": "cardinal-closed"},
        "encoding": {"x": {"field": "x", "type": "quantitative"}, "y": {"field": "y", "type": "quantitative"}, "color": {"field": "grp", "type": "nominal", "legend": null}, "order": {"field": "i", "type": "quantitative"}}},
       {"data": {"values": [{"t": "R2 = 0.019 p = 0.41"}]}, "mark": {"type": "text", "fontSize": 9, "color": "#1a1a1a"},
        "encoding": {"x": {"datum": 0.243, "type": "quantitative"}, "y": {"datum": 0.428, "type": "quantitative"}, "text": {"field": "t", "type": "nominal"}}}
      ]
     }
    ]
   }
  ]
 }
]
}
